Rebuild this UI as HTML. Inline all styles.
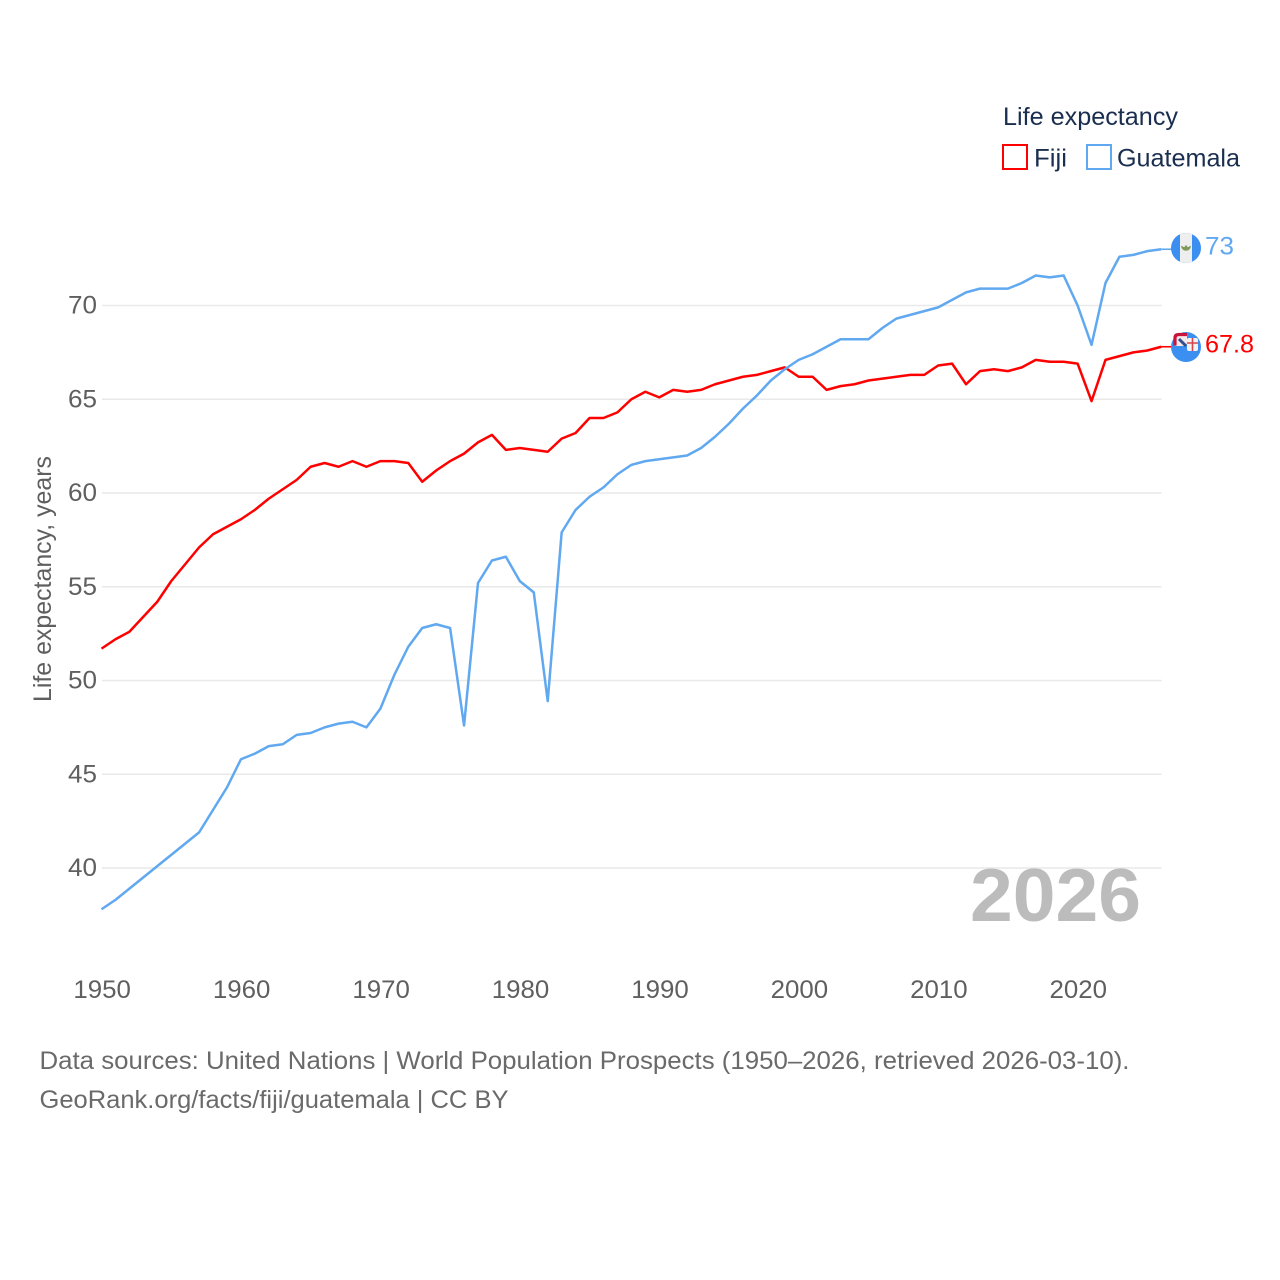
<!DOCTYPE html>
<html lang="en">
<head>
<meta charset="utf-8">
<title>Life expectancy: Fiji and Guatemala</title>
<style>
html,body{margin:0;padding:0;background:#fff;}
svg{display:block;font-family:"Liberation Sans",sans-serif;}
</style>
</head>
<body>
<svg id="chart" width="1280" height="1280" viewBox="0 0 1280 1280" xmlns="http://www.w3.org/2000/svg">
  <rect x="0" y="0" width="1280" height="1280" fill="#ffffff"/>
  <g id="grid"></g>
  <g id="y-ticks"></g>
  <g id="x-ticks"></g>
  <text transform="translate(51,579) rotate(-90)" text-anchor="middle" font-size="25" fill="#5f5f5f" textLength="246" lengthAdjust="spacingAndGlyphs">Life expectancy, years</text>
  <text x="970" y="921" font-size="75" font-weight="700" fill="#bcbcbc" textLength="171" lengthAdjust="spacingAndGlyphs">2026</text>
  <g id="series"></g>

  <g>
    <text x="1003" y="125" font-size="25" fill="#1a2e4f" textLength="175" lengthAdjust="spacingAndGlyphs">Life expectancy</text>
    <g>
      <rect x="1003" y="145" width="24" height="24" fill="#fff" stroke="#ff0000" stroke-width="2"/>
      <text x="1034" y="166.5" font-size="25" fill="#1a2e4f" textLength="33" lengthAdjust="spacingAndGlyphs">Fiji</text>
    </g>
    <g>
      <rect x="1087" y="145" width="24" height="24" fill="#fff" stroke="#60a8f0" stroke-width="2"/>
      <text x="1117" y="166.5" font-size="25" fill="#1a2e4f" textLength="123" lengthAdjust="spacingAndGlyphs">Guatemala</text>
    </g>
  </g>

  <defs>
    <clipPath id="gt-clip"><circle cx="1186" cy="248" r="15"/></clipPath>
    <clipPath id="fj-clip"><circle cx="1186" cy="347" r="15"/></clipPath>
  </defs>
  <g clip-path="url(#gt-clip)">
    <rect x="1171" y="233" width="30" height="30" fill="#3a8ff0"/>
    <rect x="1180" y="233" width="12" height="30" fill="#eeeeee"/>
    <path d="M1182 247 A4.2 4.2 0 0 0 1190 247 L1187.5 248 L1186 246 L1184.5 248 Z" fill="#7f9a5a" stroke="#7f9a5a" stroke-width="1.4"/>
  </g>
  <g>
    <circle cx="1186" cy="347" r="15" fill="#3a8ff0"/>
    <rect x="1173.5" y="333" width="13.5" height="13" rx="3" fill="#f4e8ea"/>
    <path d="M1175 345.5 V338 Q1175 334.5 1179 334.5 H1187" fill="none" stroke="#c8143c" stroke-width="3.2"/>
    <path d="M1179 339 L1186 346" stroke="#33508a" stroke-width="3"/>
    <rect x="1187" y="338" width="11" height="13" rx="2" fill="#f2f2f2"/>
    <path d="M1192.5 338 V351 M1187 343 H1198" stroke="#d8444c" stroke-width="1.6"/>
  </g>
  <text id="label-guatemala" x="1205" y="254.5" font-size="25" fill="#60a8f0" textLength="29" lengthAdjust="spacingAndGlyphs">73</text>
  <text id="label-fiji" x="1205" y="352.5" font-size="25" fill="#ff0000" textLength="49" lengthAdjust="spacingAndGlyphs">67.8</text>

  <g>
    <text x="39.5" y="1069" font-size="25" fill="#6a6a6a" textLength="1090" lengthAdjust="spacingAndGlyphs">Data sources: United Nations | World Population Prospects (1950–2026, retrieved 2026-03-10).</text>
    <text x="39.5" y="1108" font-size="25" fill="#6a6a6a" textLength="469" lengthAdjust="spacingAndGlyphs">GeoRank.org/facts/fiji/guatemala | CC BY</text>
  </g>
</svg>
<script>
const years = [1950,1951,1952,1953,1954,1955,1956,1957,1958,1959,1960,1961,1962,1963,1964,1965,1966,1967,1968,1969,1970,1971,1972,1973,1974,1975,1976,1977,1978,1979,1980,1981,1982,1983,1984,1985,1986,1987,1988,1989,1990,1991,1992,1993,1994,1995,1996,1997,1998,1999,2000,2001,2002,2003,2004,2005,2006,2007,2008,2009,2010,2011,2012,2013,2014,2015,2016,2017,2018,2019,2020,2021,2022,2023,2024,2025,2026];
const fijiValues = [51.7,52.2,52.6,53.4,54.2,55.3,56.2,57.1,57.8,58.2,58.6,59.1,59.7,60.2,60.7,61.4,61.6,61.4,61.7,61.4,61.7,61.7,61.6,60.6,61.2,61.7,62.1,62.7,63.1,62.3,62.4,62.3,62.2,62.9,63.2,64.0,64.0,64.3,65.0,65.4,65.1,65.5,65.4,65.5,65.8,66.0,66.2,66.3,66.5,66.7,66.2,66.2,65.5,65.7,65.8,66.0,66.1,66.2,66.3,66.3,66.8,66.9,65.8,66.5,66.6,66.5,66.7,67.1,67.0,67.0,66.9,64.9,67.1,67.3,67.5,67.6,67.8];
const guatemalaValues = [37.8,38.3,38.9,39.5,40.1,40.7,41.3,41.9,43.1,44.3,45.8,46.1,46.5,46.6,47.1,47.2,47.5,47.7,47.8,47.5,48.5,50.3,51.8,52.8,53.0,52.8,47.6,55.2,56.4,56.6,55.3,54.7,48.9,57.9,59.1,59.8,60.3,61.0,61.5,61.7,61.8,61.9,62.0,62.4,63.0,63.7,64.5,65.2,66.0,66.6,67.1,67.4,67.8,68.2,68.2,68.2,68.8,69.3,69.5,69.7,69.9,70.3,70.7,70.9,70.9,70.9,71.2,71.6,71.5,71.6,70.0,67.9,71.2,72.6,72.7,72.9,73.0];
const yTickValues = [40,45,50,55,60,65,70];
const xTickValues = [1950,1960,1970,1980,1990,2000,2010,2020];

const NS = 'http://www.w3.org/2000/svg';
function xScale(year){ return 101.5 + (year - 1950) * (1077.6 - 101.5) / 70; }
function yScale(v){ return 868 - (v - 40) * (868 - 305.5) / 30; }
function make(tag, attrs){
  const el = document.createElementNS(NS, tag);
  Object.keys(attrs).forEach(function(k){ el.setAttribute(k, attrs[k]); });
  return el;
}

const gridGroup = document.getElementById('grid');
const yGroup = document.getElementById('y-ticks');
yTickValues.forEach(function(v){
  const line = make('line', {x1: 102, x2: 1161.7, y1: yScale(v), y2: yScale(v), stroke: '#e9e9e9', 'stroke-width': 1.4});
  
  
  gridGroup.appendChild(line);
  const label = make('text', {x: 97, y: yScale(v) + 8, 'text-anchor': 'end', 'font-size': 25, fill: '#5f5f5f', textLength: 29, lengthAdjust: 'spacingAndGlyphs'});
  
  
  label.textContent = v;
  yGroup.appendChild(label);
});

const xGroup = document.getElementById('x-ticks');
xTickValues.forEach(function(y){
  const label = make('text', {x: xScale(y) + 0.7, y: 998, 'text-anchor': 'middle', 'font-size': 25, fill: '#5f5f5f', textLength: 57.5, lengthAdjust: 'spacingAndGlyphs'});
  
  
  label.textContent = y;
  xGroup.appendChild(label);
});

function pathFor(values){
  return values.map(function(v, i){
    return (i ? 'L' : 'M') + xScale(years[i]).toFixed(2) + ' ' + yScale(v).toFixed(2);
  }).join(' ');
}
const seriesGroup = document.getElementById('series');

const fijiLine = make('path', {d: pathFor(fijiValues), fill: 'none', stroke: '#ff0000', 'stroke-width': 2.5, 'stroke-linejoin': 'round'});


seriesGroup.appendChild(fijiLine);

const guatemalaLine = make('path', {d: pathFor(guatemalaValues), fill: 'none', stroke: '#60a8f0', 'stroke-width': 2.5, 'stroke-linejoin': 'round'});


seriesGroup.appendChild(guatemalaLine);

const lastIndex = years.length - 1;
const fijiEnd = make('line', {x1: xScale(years[lastIndex]), x2: 1172, y1: yScale(fijiValues[lastIndex]), y2: yScale(fijiValues[lastIndex]), stroke: '#ff0000', 'stroke-width': 1.6});


seriesGroup.appendChild(fijiEnd);

const guatemalaEnd = make('line', {x1: xScale(years[lastIndex]), x2: 1172, y1: yScale(guatemalaValues[lastIndex]), y2: yScale(guatemalaValues[lastIndex]), stroke: '#60a8f0', 'stroke-width': 1.6});


seriesGroup.appendChild(guatemalaEnd);
</script>
</body>
</html>
